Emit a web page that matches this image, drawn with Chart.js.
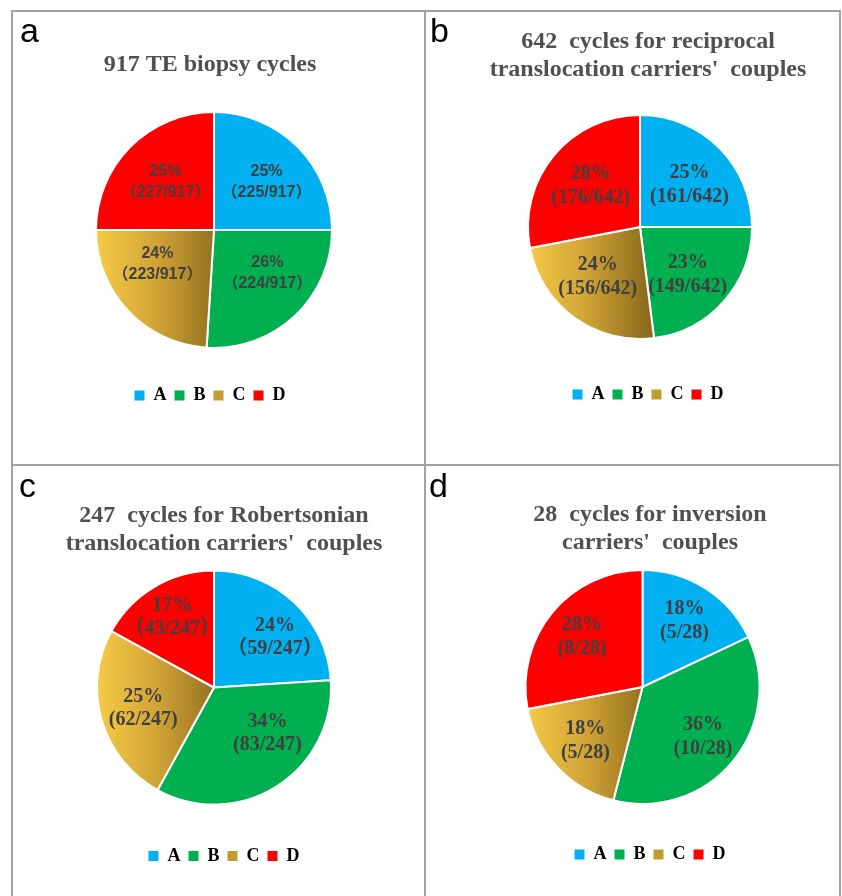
<!DOCTYPE html>
<html>
<head>
<meta charset="utf-8">
<script src="https://cdn.jsdelivr.net/npm/chart.js@4.4.1/dist/chart.umd.min.js"></script>
<style>
  body { margin: 0; background: #fff; }
  #page { position: relative; width: 842px; height: 896px; overflow: hidden; background: #fff; }
  .rule { position: absolute; background: #a2a2a2; }
  .cell { position: absolute; }
  .tag { position: absolute; font-family: "Liberation Sans", Arial, sans-serif; font-size: 34px; line-height: 1; color: #000; }
</style>
</head>
<body>
<div id="page">
  <div class="rule" style="left:11px;top:10px;width:830px;height:2px"></div>
  <div class="rule" style="left:11px;top:464px;width:830px;height:2px"></div>
  <div class="rule" style="left:11px;top:10px;width:2px;height:886px"></div>
  <div class="rule" style="left:424px;top:10px;width:2px;height:886px"></div>
  <div class="rule" style="left:839px;top:10px;width:2px;height:886px"></div>

  <div class="cell" style="left:13px;top:12px;width:411px;height:452px"><canvas id="pieA"></canvas></div>
  <div class="cell" style="left:426px;top:12px;width:413px;height:452px"><canvas id="pieB"></canvas></div>
  <div class="cell" style="left:13px;top:466px;width:411px;height:430px"><canvas id="pieC"></canvas></div>
  <div class="cell" style="left:426px;top:466px;width:413px;height:430px"><canvas id="pieD"></canvas></div>

  <div class="tag" style="left:20px;top:13px">a</div>
  <div class="tag" style="left:430px;top:13px">b</div>
  <div class="tag" style="left:19px;top:468px">c</div>
  <div class="tag" style="left:429px;top:468px">d</div>
</div>
<script>
// categories shared by all four pies
const categories = ['A', 'B', 'C', 'D'];

// chart titles
const titleA = ['917 TE biopsy cycles'];
const titleB = ['642  cycles for reciprocal', "translocation carriers'  couples"];
const titleC = ['247  cycles for Robertsonian', "translocation carriers'  couples"];
const titleD = ['28  cycles for inversion', "carriers'  couples"];

// slice values (percent shown on the slice)
const percentA = [25, 26, 24, 25];
const percentB = [25, 23, 24, 28];
const percentC = [24, 34, 25, 17];
const percentD = [18, 36, 18, 28];

// cycle counts shown under the percent
const countsA = [225, 224, 223, 227];
const countsB = [161, 149, 156, 176];
const countsC = [59, 83, 62, 43];
const countsD = [5, 10, 5, 8];
const totalA = 917, totalB = 642, totalC = 247, totalD = 28;

// which count labels use full width brackets
const wideA = [true, true, true, true];
const wideB = [false, false, false, false];
const wideC = [true, false, false, true];
const wideD = [false, false, false, false];

const sliceColors = ['#00b0f0', '#00b050', null, '#ff0000'];
const legendColors = ['#00b0f0', '#00b050', '#c49b30', '#ff0000'];
const serif = '"Liberation Serif", "Times New Roman", "Noto Sans CJK SC", serif';
const sans = '"Liberation Sans", Arial, "Noto Sans CJK SC", sans-serif';

// gold slice gets a left-to-right gradient
function sliceFill(c) {
  if (c.dataIndex != 2) return sliceColors[c.dataIndex];
  var area = c.chart.chartArea;
  if (!area) return '#c49b30';
  var cx = (area.left + area.right) / 2;
  var r = (area.right - area.left) / 2;
  var g = c.chart.ctx.createLinearGradient(cx - r, 0, cx + r * 0.08, 0);
  g.addColorStop(0, '#f7cb47');
  g.addColorStop(0.5, '#cfa236');
  g.addColorStop(1, '#8a6a1d');
  return g;
}

// put the pie where the figure has it, title and legend keep their own boxes
const pieFrame = {
  id: 'pieFrame',
  afterLayout(chart, args, opts) {
    var a = chart.chartArea;
    var half = opts.r + 1; // border width is taken off the radius
    a.left = opts.x - half; a.right = opts.x + half;
    a.top = opts.y - half; a.bottom = opts.y + half;
    a.width = a.height = 2 * half;
  }
};

// two line labels inside each slice
const sliceLabels = {
  id: 'sliceLabels',
  afterDatasetsDraw(chart, args, opts) {
    var ctx = chart.ctx;
    var meta = chart.getDatasetMeta(0);
    ctx.save();
    ctx.fillStyle = '#404040';
    ctx.font = opts.font;
    ctx.textAlign = 'center';
    ctx.textBaseline = 'middle';
    meta.data.forEach(function(arc, i) {
      var p = arc.getProps(['x', 'y', 'startAngle', 'endAngle', 'outerRadius'], true);
      var mid = (p.startAngle + p.endAngle) / 2 + opts.turn[i];
      var dist = p.outerRadius * opts.offset[i];
      var x = p.x + Math.cos(mid) * dist;
      var y = p.y + Math.sin(mid) * dist;
      var lines = opts.lines(i);
      lines.forEach(function(t, k) {
        ctx.fillText(t, x, y + (k - (lines.length - 1) / 2) * opts.lineHeight);
      });
    });
    ctx.restore();
  }
};

function makePie(id, title, percent, counts, total, wide, s) {
  var lines = function(i) {
    var open = wide[i] ? '\uff08' : '(';
    var close = wide[i] ? '\uff09' : ')';
    return [percent[i] + '%', open + counts[i] + '/' + total + close];
  };
  return new Chart(document.getElementById(id), {
    type: 'pie',
    data: {
      labels: categories,
      datasets: [{
        data: percent,
        backgroundColor: sliceFill,
        borderColor: '#ffffff',
        borderWidth: 2
      }]
    },
    plugins: [pieFrame, sliceLabels],
    options: {
      responsive: true,
      maintainAspectRatio: false,
      animation: false,
      events: [],
      layout: { padding: s.padding },
      plugins: {
        pieFrame: s.pie,
        sliceLabels: { font: s.labelFont, lineHeight: s.labelLine, offset: s.labelOffset, turn: s.labelTurn, lines: lines },
        tooltip: { enabled: false },
        title: {
          display: true,
          text: title,
          color: '#505050',
          font: { family: serif, size: 24, weight: 'bold', lineHeight: 1.1667 },
          padding: { top: s.titleTop, bottom: 0 }
        },
        legend: {
          display: true,
          position: 'bottom',
          labels: {
            color: '#595959',
            font: { family: serif, size: 18, weight: 'bold' },
            boxWidth: 10,
            boxHeight: 10,
            padding: 8,
            generateLabels: function(chart) {
              return categories.map(function(name, i) {
                return { text: name, fillStyle: legendColors[i], strokeStyle: legendColors[i], lineWidth: 0, hidden: false, index: i };
              });
            }
          }
        }
      }
    }
  });
}

makePie('pieA', titleA, percentA, countsA, totalA, wideA, {
  padding: { left: 0, right: 17, top: 0, bottom: 49.5 }, titleTop: 38.5,
  pie: { x: 201, y: 218, r: 118 },
  labelFont: 'bold 16px ' + sans, labelLine: 21,
  labelOffset: [0.6, 0.58, 0.56, 0.58], labelTurn: [0.05, -0.14, 0.21, 0]
});
makePie('pieB', titleB, percentB, countsB, totalB, wideB, {
  padding: { left: 31, right: 0, top: 0, bottom: 50.5 }, titleTop: 16,
  pie: { x: 214, y: 215, r: 112 },
  labelFont: 'bold 20px ' + serif, labelLine: 24,
  labelOffset: [0.58, 0.6, 0.58, 0.57], labelTurn: [0.08, 0.06, 0.08, 0]
});
makePie('pieC', titleC, percentC, countsC, totalC, wideC, {
  padding: { left: 11, right: 0, top: 0, bottom: 21 }, titleTop: 35.5,
  pie: { x: 201, y: 221.5, r: 117 },
  labelFont: 'bold 20px ' + serif, labelLine: 23,
  labelOffset: [0.675, 0.6, 0.63, 0.7], labelTurn: [0.13, -0.3, 0, 0]
});
makePie('pieD', titleD, percentD, countsD, totalD, wideD, {
  padding: { left: 35, right: 0, top: 0, bottom: 22.5 }, titleTop: 34.5,
  pie: { x: 216.5, y: 221, r: 117 },
  labelFont: 'bold 20px ' + serif, labelLine: 24,
  labelOffset: [0.67, 0.67, 0.67, 0.67], labelTurn: [0, 0, 0, 0]
});
</script>
</body>
</html>
